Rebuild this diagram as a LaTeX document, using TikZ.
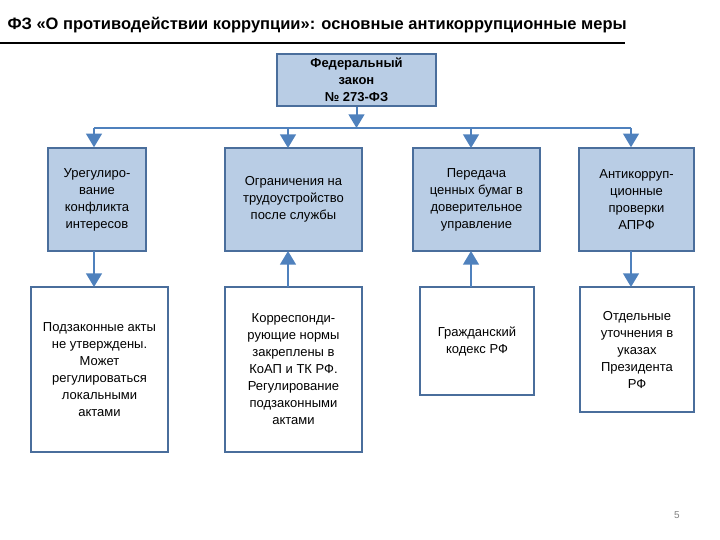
\documentclass[tikz,border=0pt]{standalone}
\usepackage{fontspec}
\setmainfont{Liberation Sans}
\usetikzlibrary{arrows.meta}
\definecolor{bfill}{HTML}{B9CDE5}
\definecolor{bdraw}{HTML}{4A6E9C}
\definecolor{arr}{HTML}{4F81BD}
\begin{document}
\begin{tikzpicture}[x=1pt,y=-1pt,
  box/.style={draw=bdraw,line width=1.5pt,fill=bfill,align=center,inner sep=0pt,font=\fontsize{13}{17}\selectfont},
  wbox/.style={draw=bdraw,line width=1.5pt,fill=white,align=center,inner sep=0pt,font=\fontsize{13}{17}\selectfont},
  ar/.style={draw=arr,line width=2pt,-{Triangle[scale=1.6]}}]
\useasboundingbox (0,0) rectangle (720,540);
\node[anchor=west,font=\bfseries\fontsize{16.5}{18}\selectfont,text=black] (title) at (4,25) {ФЗ «О противодействии коррупции»: основные антикоррупционные меры};
\draw[line width=1.5pt] (0,43) -- (625,43);
\node[box,minimum width=159pt,minimum height=52pt,font=\bfseries\fontsize{13}{17}\selectfont] (top) at (356.5,80) {Федеральный\\закон\\№ 273-ФЗ};
\node[box,minimum width=98pt,minimum height=103pt] (a1) at (97,199.5) {Урегулиро-\\вание\\конфликта\\интересов};
\node[box,minimum width=137pt,minimum height=103pt] (a2) at (293.5,199.5) {Ограничения на\\трудоустройство\\после службы};
\node[box,minimum width=127pt,minimum height=103pt] (a3) at (476.5,199.5) {Передача\\ценных бумаг в\\доверительное\\управление};
\node[box,minimum width=115pt,minimum height=103pt] (a4) at (636.5,199.5) {Антикорруп-\\ционные\\проверки\\АПРФ};
\node[wbox,minimum width=137pt,minimum height=165pt] (b1) at (99.5,369.5) {Подзаконные акты\\не утверждены.\\Может\\регулироваться\\локальными\\актами};
\node[wbox,minimum width=137pt,minimum height=165pt] (b2) at (293.5,369.5) {Корреспонди-\\рующие нормы\\закреплены в\\КоАП и ТК РФ.\\Регулирование\\подзаконными\\актами};
\node[wbox,minimum width=114pt,minimum height=108pt] (b3) at (477,341) {Гражданский\\кодекс РФ};
\node[wbox,minimum width=114pt,minimum height=125pt] (b4) at (637,349.5) {Отдельные\\уточнения в\\указах\\Президента\\РФ};
\coordinate (j) at (356.5,128);
\coordinate (l) at (94,128);
\coordinate (r) at (631,128);
\draw[draw=arr,line width=2pt] (l) -- (r);
\draw[ar] (top.south) -- (j);
\draw[ar] (l) -- (l |- a1.north);
\draw[ar] (288,128) -- (288,148);
\draw[ar] (471,128) -- (471,148);
\draw[ar] (r) -- (r |- a4.north);
\draw[ar] (94,251) -- (94,287);
\draw[ar] (288,287) -- (288,251);
\draw[ar] (471,287) -- (471,251);
\draw[ar] (631,251) -- (631,287);
\node[text=gray,font=\fontsize{10}{12}\selectfont] (pg) at (677,515) {5};
\end{tikzpicture}
\end{document}
